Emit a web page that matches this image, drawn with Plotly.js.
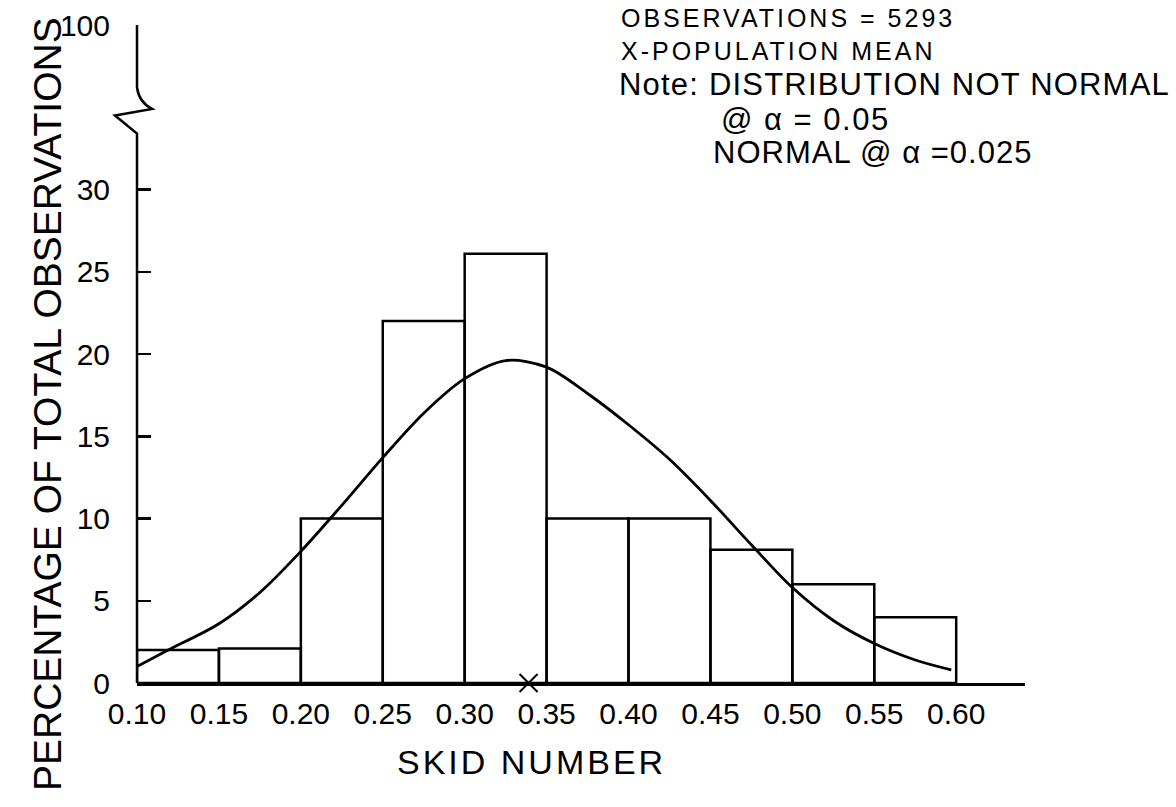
<!DOCTYPE html>
<html>
<head>
<meta charset="utf-8">
<script src="https://cdn.plot.ly/plotly-3.0.1.min.js"></script>
<style>
  html, body { margin: 0; padding: 0; background: #ffffff; }
  #chart { width: 1176px; height: 807px; }
</style>
</head>
<body>
<div id="chart"></div>
<script>
// ---- data ----
const binStart = [0.10, 0.15, 0.20, 0.25, 0.30, 0.35, 0.40, 0.45, 0.50, 0.55];
const pct      = [2.0, 2.1, 10.0, 22.0, 26.1, 10.0, 10.0, 8.1, 6.0, 4.0];
const binWidth = 0.05;

const curveX = [0.100, 0.119, 0.150, 0.175, 0.200, 0.225, 0.250, 0.275, 0.300, 0.325, 0.350, 0.375, 0.400, 0.425, 0.450, 0.475, 0.500, 0.525, 0.550, 0.575, 0.597];
const curveY = [1.0,   2.0,   3.6,   5.5,   8.0,   10.8,  13.7,  16.4,  18.5,  19.6,  19.2,  17.6,  15.7,  13.6,  11.1,  8.4,   5.8,   3.8,   2.4,   1.4,   0.8];

const meanSkid = [0.339];
const meanBase = [0];

const xTickVals = [0.10, 0.15, 0.20, 0.25, 0.30, 0.35, 0.40, 0.45, 0.50, 0.55, 0.60];
const xTickText = ['0.10', '0.15', '0.20', '0.25', '0.30', '0.35', '0.40', '0.45', '0.50', '0.55', '0.60'];
const yTickVals = [0, 5, 10, 15, 20, 25, 30, 40];
const yTickText = ['0', '5', '10', '15', '20', '25', '30', '100'];

const noteHead = ['OBSERVATIONS = 5293', 'X-POPULATION MEAN'];
const noteMain = 'Note: DISTRIBUTION NOT NORMAL';
const noteAlpha1 = '@ \u03b1 = 0.05';
const noteAlpha2 = 'NORMAL @ \u03b1 =0.025';

// ---- chart ----
const FONT = 'Liberation Sans, Arial, sans-serif';
const INK = '#000000';
const sp = (t, px) => '<span style="letter-spacing:' + px + 'px">' + t + '</span>';

const traces = [
  {
    type: 'bar',
    x: binStart,
    y: pct,
    width: binWidth,
    offset: 0,
    marker: { color: 'rgba(255,255,255,0)', line: { color: INK, width: 2.5 } },
    hoverinfo: 'skip'
  },
  {
    type: 'scatter',
    mode: 'lines',
    x: curveX,
    y: curveY,
    line: { color: INK, width: 2.8, shape: 'spline', smoothing: 0.9 },
    hoverinfo: 'skip'
  },
  {
    type: 'scatter',
    mode: 'markers',
    x: meanSkid,
    y: meanBase,
    marker: { symbol: 'x-thin', size: 18, color: INK, line: { color: INK, width: 2 } },
    cliponaxis: false,
    hoverinfo: 'skip'
  }
];

const layout = {
  width: 1176,
  height: 807,
  margin: { l: 137, r: 151, t: 25, b: 124 },
  paper_bgcolor: '#ffffff',
  plot_bgcolor: '#ffffff',
  showlegend: false,
  bargap: 0,
  font: { family: FONT, color: INK },
  xaxis: {
    range: [0.10, 0.642],
    tickvals: xTickVals,
    ticktext: xTickText,
    ticks: '',
    ticklabelstandoff: 2,
    tickfont: { family: FONT, size: 30, color: INK },
    showline: true,
    linecolor: INK,
    linewidth: 3,
    showgrid: false,
    zeroline: false,
    fixedrange: true
  },
  yaxis: {
    range: [0, 40],
    tickvals: yTickVals,
    ticktext: yTickText,
    ticks: 'inside',
    ticklen: 14,
    tickwidth: 2.5,
    tickcolor: INK,
    ticklabelstandoff: 26,
    tickfont: { family: FONT, size: 30, color: INK },
    showline: false,
    showgrid: false,
    zeroline: false,
    fixedrange: true
  },
  shapes: [
    {
      // broken y-axis line (0 → 30, break, then up to the 100 mark)
      type: 'path',
      xref: 'paper', xsizemode: 'pixel', xanchor: 0,
      yref: 'y',
      path: 'M0,0 L0,33.4 L-22,34.5 L15,34.9 Q2,35.3 0,36.2 L0,40',
      line: { color: INK, width: 2.5 },
      layer: 'above'
    }
  ],
  annotations: [
    {
      text: 'PERCENTAGE OF TOTAL OBSERVATIONS',
      xref: 'paper', yref: 'paper',
      x: (47 - 137) / 888, y: (683 - 404) / 658,
      xanchor: 'center', yanchor: 'middle',
      textangle: -90, showarrow: false,
      font: { family: FONT, size: 39, color: INK }
    },
    {
      text: sp('SKID NUMBER', 3),
      xref: 'paper', yref: 'paper',
      x: (531 - 137) / 888, y: (683 - 762) / 658,
      xanchor: 'center', yanchor: 'middle',
      showarrow: false,
      font: { family: FONT, size: 34, color: INK }
    },
    {
      text: sp(noteHead[0], 3) + '<br>' + sp(noteHead[1], 3),
      xref: 'paper', yref: 'paper',
      x: (619 - 137) / 888, y: (683 - 35) / 658,
      xanchor: 'left', yanchor: 'middle', align: 'left', showarrow: false,
      font: { family: FONT, size: 25, color: INK }
    },
    {
      text: sp(noteMain, 1.2), xref: 'paper', yref: 'paper',
      x: (617 - 137) / 888, y: (683 - 84) / 658,
      xanchor: 'left', yanchor: 'middle', showarrow: false,
      font: { family: FONT, size: 31, color: INK }
    },
    {
      text: sp(noteAlpha1, 1.5), xref: 'paper', yref: 'paper',
      x: (719 - 137) / 888, y: (683 - 119) / 658,
      xanchor: 'left', yanchor: 'middle', showarrow: false,
      font: { family: FONT, size: 31, color: INK }
    },
    {
      text: sp(noteAlpha2, 1), xref: 'paper', yref: 'paper',
      x: (711 - 137) / 888, y: (683 - 152) / 658,
      xanchor: 'left', yanchor: 'middle', showarrow: false,
      font: { family: FONT, size: 31, color: INK }
    }
  ]
};

Plotly.newPlot('chart', traces, layout, { displayModeBar: false, staticPlot: true });
</script>
</body>
</html>
